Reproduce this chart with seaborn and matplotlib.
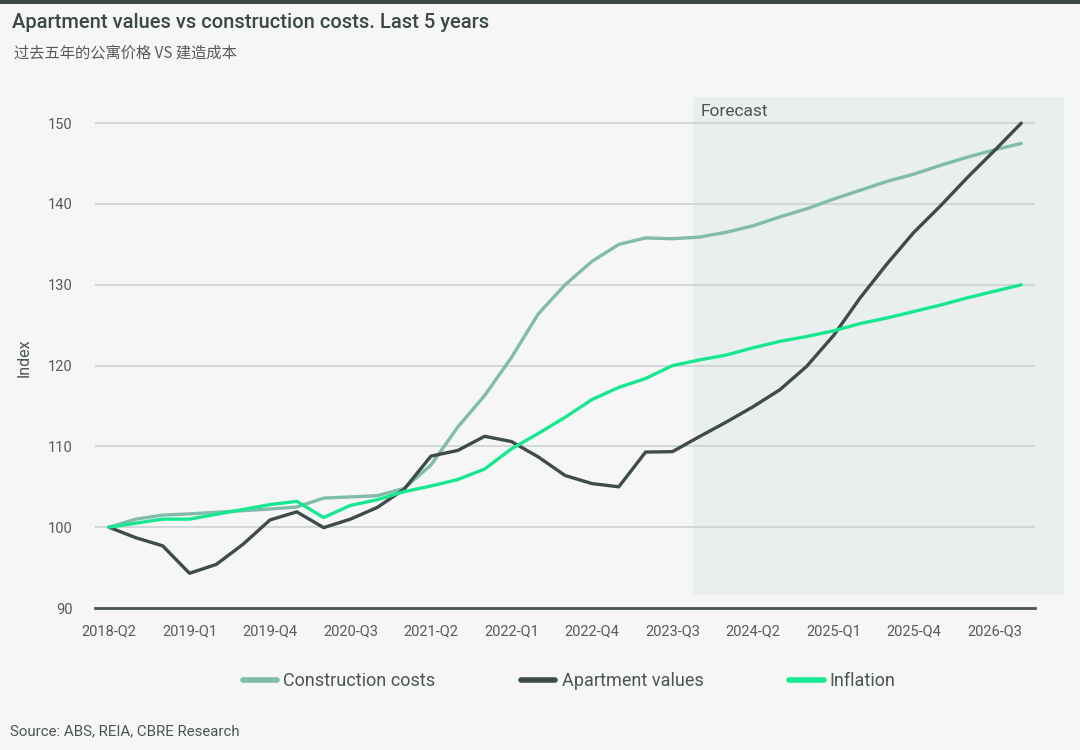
import matplotlib
matplotlib.use("Agg")
import matplotlib.pyplot as plt
from matplotlib.patches import Rectangle
import seaborn as sns
import pandas as pd

quarters = [
    "2018-Q2", "2018-Q3", "2018-Q4", "2019-Q1", "2019-Q2", "2019-Q3", "2019-Q4",
    "2020-Q1", "2020-Q2", "2020-Q3", "2020-Q4", "2021-Q1", "2021-Q2", "2021-Q3",
    "2021-Q4", "2022-Q1", "2022-Q2", "2022-Q3", "2022-Q4", "2023-Q1", "2023-Q2",
    "2023-Q3", "2023-Q4", "2024-Q1", "2024-Q2", "2024-Q3", "2024-Q4", "2025-Q1",
    "2025-Q2", "2025-Q3", "2025-Q4", "2026-Q1", "2026-Q2", "2026-Q3", "2026-Q4",
]

construction_costs = [
    100, 101.0, 101.5, 101.65, 101.85, 102.05, 102.25, 102.5, 103.6, 103.75,
    103.9, 104.8, 107.7, 112.4, 116.3, 121.0, 126.4, 130.0, 132.9, 135.0,
    135.8, 135.7, 135.9, 136.5, 137.3, 138.4, 139.4, 140.6, 141.7, 142.8,
    143.7, 144.8, 145.8, 146.7, 147.5,
]
apartment_values = [
    100, 98.7, 97.7, 94.3, 95.4, 97.9, 100.9, 101.9, 99.95, 101.0,
    102.45, 104.7, 108.8, 109.5, 111.25, 110.6, 108.7, 106.4, 105.4, 105.0,
    109.3, 109.35, 111.2, 113.0, 114.9, 117.0, 119.9, 123.7, 128.4, 132.6,
    136.5, 139.8, 143.3, 146.6, 150.0,
]
inflation = [
    100, 100.5, 101.0, 101.0, 101.6, 102.2, 102.8, 103.2, 101.2, 102.7,
    103.4, 104.4, 105.1, 105.9, 107.2, 109.7, 111.6, 113.6, 115.8, 117.3,
    118.4, 120.0, 120.7, 121.3, 122.2, 123.0, 123.6, 124.3, 125.2, 125.9,
    126.7, 127.5, 128.4, 129.2, 130.0,
]

series_names = ["Construction costs", "Apartment values", "Inflation"]
palette = {
    "Construction costs": "#80bca9",
    "Apartment values": "#3e4b49",
    "Inflation": "#17e88f",
}

rows = []
for name, vals in zip(series_names, [construction_costs, apartment_values, inflation]):
    for i, v in enumerate(vals):
        rows.append({"pos": i, "Quarter": quarters[i], "Series": name, "Index": v})
df = pd.DataFrame(rows)

sns.set_theme(style="white")
plt.rcParams["font.family"] = ["Roboto", "Noto Sans CJK SC", "DejaVu Sans"]

bg = "#f6f6f6"
text_col = "#4a5553"

fig = plt.figure(figsize=(10.8, 7.5), dpi=100, facecolor=bg)
ax = fig.add_axes([0.088, 0.1893, 0.870, 0.668])
ax.set_facecolor(bg)

sns.lineplot(data=df, x="pos", y="Index", hue="Series", hue_order=series_names,
             palette=palette, linewidth=2.4, ax=ax, legend=True)

ax.set_xlim(-0.52, 34.5)
ax.set_ylim(90, 152)
ax.set_yticks([90, 100, 110, 120, 130, 140, 150])
tick_pos = list(range(0, len(quarters), 3))
ax.set_xticks(tick_pos)
ax.set_xticklabels([quarters[i] for i in tick_pos])
ax.tick_params(axis="x", length=0, pad=12, labelsize=10.5, labelcolor="#555b5a")
ax.tick_params(axis="y", length=0, pad=16, labelsize=10.5, labelcolor="#555b5a")
ax.set_xlabel("")
ax.set_ylabel("Index", fontsize=11.5, color=text_col, labelpad=12)

ax.set_axisbelow(True)
ax.yaxis.grid(True, color="#cfd4d6", linewidth=1.3)
ax.xaxis.grid(False)
for s in ["top", "right", "left"]:
    ax.spines[s].set_visible(False)
ax.spines["bottom"].set_color("#4a5553")
ax.spines["bottom"].set_linewidth(2)

# forecast shading
ax.add_patch(Rectangle((21.75, 91.6), 13.85, 61.6, facecolor="#e9eeee",
                       edgecolor="none", zorder=0.1, clip_on=False))
ax.text(22.05, 151.5, "Forecast", fontsize=12.5, color=text_col, va="center", ha="left")

handles, labels = ax.get_legend_handles_labels()
ax.get_legend().remove()
for h in handles:
    h.set_linewidth(4)
fig.legend(handles, labels, loc="center", bbox_to_anchor=(0.527, 0.092), ncol=3,
           frameon=False, fontsize=13, handlelength=1.9, handletextpad=0.35,
           columnspacing=4.75, labelcolor=text_col)

# header bar and texts
fig.patches.append(Rectangle((0, 0.995), 1, 0.005, transform=fig.transFigure,
                             facecolor="#3b4846", edgecolor="none"))
fig.text(0.011, 0.970, "Apartment values vs construction costs. Last 5 years",
         fontsize=14.5, fontweight="medium", color="#3b4846", va="center", ha="left")
fig.text(0.013, 0.929, "过去五年的公寓价格 VS 建造成本", fontsize=11,
         color="#555b5a", va="center", ha="left",
         family=["Noto Sans CJK SC", "DejaVu Sans"])
fig.text(0.009, 0.025, "Source: ABS, REIA, CBRE Research", fontsize=10.8,
         color=text_col, va="center", ha="left")

fig.savefig("out.png", dpi=100, facecolor=bg)
